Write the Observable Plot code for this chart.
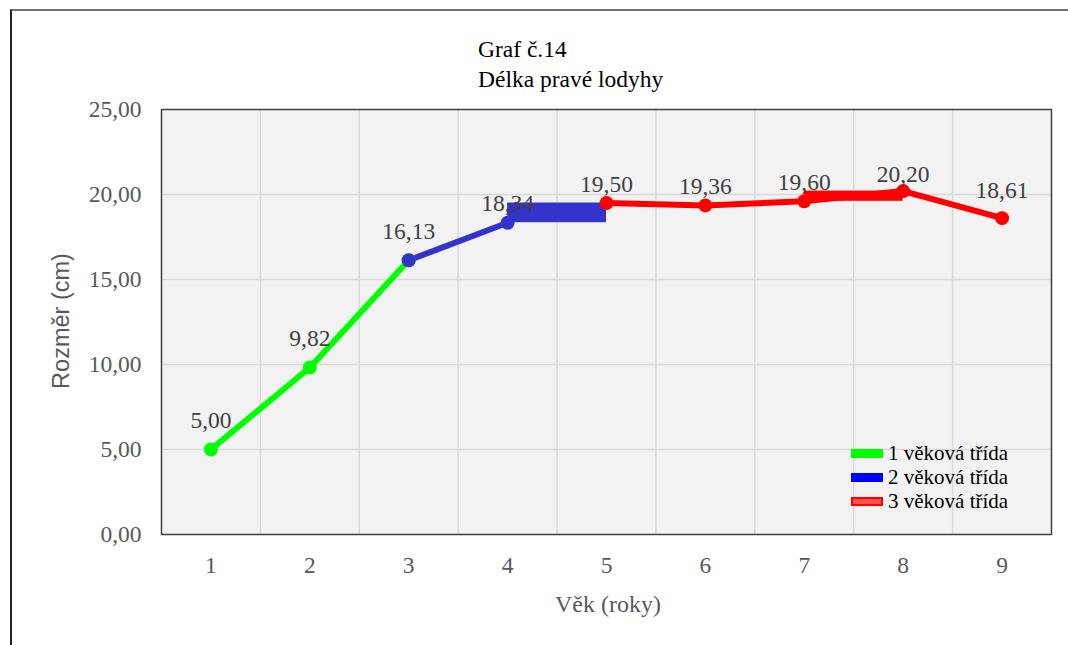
<!DOCTYPE html>
<html>
<head>
<meta charset="utf-8">
<script src="https://cdn.jsdelivr.net/npm/d3@7"></script>
<script src="https://cdn.jsdelivr.net/npm/@observablehq/plot@0.6"></script>
<style>
  html, body { margin: 0; padding: 0; background: #fff; overflow: hidden; }
  #wrap { position: relative; width: 1068px; height: 645px; overflow: hidden; }
  #frame { position: absolute; left: 10px; top: 9px; width: 1200px; height: 800px;
           border-top: 2px solid #6e6e6e; border-left: 2px solid #222; box-sizing: border-box; }
  .t { position: absolute; font-family: "Liberation Serif", "Times New Roman", serif; white-space: nowrap; }
  #title { left: 478px; top: 34px; font-size: 23.5px; line-height: 30px; color: #000; }
  #ytitle { position: absolute; left: 61px; top: 321px; transform: translate(-50%, -50%) rotate(-90deg);
            font-family: "Liberation Sans", Arial, sans-serif; font-size: 23.5px; color: #595959; white-space: nowrap; }
  #xtitle { left: 608px; top: 604px; transform: translate(-50%, -50%); font-size: 24px; color: #595959; }
  #legend { left: 851px; top: 441px; font-size: 21px; color: #000; }
  .li { display: flex; align-items: center; height: 24px; }
  .sw { width: 32px; height: 9px; margin-right: 5px; box-sizing: border-box; }
</style>
</head>
<body>
<div id="wrap">
  <div id="chart"></div>
  <div id="frame"></div>
  <div id="title" class="t">Graf č.14<br>Délka pravé lodyhy</div>
  <div id="ytitle">Rozměr (cm)</div>
  <div id="xtitle" class="t">Věk (roky)</div>
  <div id="legend" class="t"></div>
</div>
<script>
// ---- data ----
const ages = [1, 2, 3, 4, 5, 6, 7, 8, 9];
const sizes = [5.00, 9.82, 16.13, 18.34, 19.50, 19.36, 19.60, 20.20, 18.61];
const class1Ages = [1, 2, 3];
const class2Ages = [3, 4];
const class3Ages = [5, 6, 7, 8, 9];
const classNames = ["1 věková třída", "2 věková třída", "3 věková třída"];
const classColors = ["#00ff00", "#3333cc", "#ff0000"];
const legendFill = ["#00ff00", "#0000ff", "#ff5050"];
const legendStroke = ["#00ff00", "#0000ff", "#ff0000"];
const yTicks = [0, 5, 10, 15, 20, 25];
// bars spanning between age pairs (age from, age to)
const blueBarAges = [4, 5];
const redBarAges = [7, 8];

// label placement (pixels above each point) — style, not data
const labelLift = [29, 29, 29, 19, 19, 19, 19, 17, 28];

const val = a => sizes[ages.indexOf(a)];
const pts = arr => arr.map(a => ({age: a, size: val(a)}));
const s1 = pts(class1Ages), s2 = pts(class2Ages), s3 = pts(class3Ages);
const allPts = pts(ages);
const bars = [
  {x1: blueBarAges[0], x2: blueBarAges[1], y1: val(blueBarAges[0]), y2: val(blueBarAges[1]), c: classColors[1]},
  {x1: redBarAges[0], x2: redBarAges[1], y1: val(redBarAges[0]), y2: val(redBarAges[1]), c: classColors[2]}
];
const gridX = ages.slice(1).map(a => a - 0.5);
const gridY = yTicks.slice(1, -1);
const fmt = d => d.toFixed(2).replace(".", ",");

const labelMarks = allPts.map((p, i) =>
  Plot.text([p], {x: "age", y: "size", text: d => fmt(d.size), dy: -labelLift[i], fill: "#404040", fontSize: 23.5})
);

const chart = Plot.plot({
  width: 1068,
  height: 645,
  marginLeft: 161,
  marginRight: 17,
  marginTop: 109,
  marginBottom: 111,
  style: {fontFamily: "'Liberation Serif', 'Times New Roman', serif", fontSize: "23px", background: "transparent"},
  x: {type: "linear", domain: [ages[0] - 0.5, ages[ages.length - 1] + 0.5]},
  y: {domain: [yTicks[0], yTicks[yTicks.length - 1]]},
  marks: [
    Plot.frame({fill: "#f2f2f2", stroke: null}),
    Plot.ruleY(gridY, {stroke: "#d9d9d9", strokeWidth: 1.5}),
    Plot.ruleX(gridX, {stroke: "#d9d9d9", strokeWidth: 1.5}),
    Plot.frame({stroke: "#404040", strokeWidth: 1.5}),
    Plot.line(s1, {x: "age", y: "size", stroke: classColors[0], strokeWidth: 6}),
    Plot.line(s2, {x: "age", y: "size", stroke: classColors[1], strokeWidth: 6}),
    Plot.line(s3, {x: "age", y: "size", stroke: classColors[2], strokeWidth: 6}),
    Plot.rect(bars, {x1: "x1", x2: "x2", y1: "y1", y2: "y2", fill: "c"}),
    Plot.dot(s1, {x: "age", y: "size", r: 7, fill: classColors[0]}),
    Plot.dot(s2, {x: "age", y: "size", r: 7, fill: classColors[1]}),
    Plot.dot(s3, {x: "age", y: "size", r: 7, fill: classColors[2]}),
    ...labelMarks,
    Plot.axisX({ticks: ages, tickSize: 0, tickPadding: 22, tickFormat: d => String(d), color: "#595959", label: null, fontSize: 23.5}),
    Plot.axisY({ticks: yTicks, tickSize: 0, tickPadding: 20, tickFormat: fmt, color: "#595959", label: null, fontSize: 23.5})
  ]
});
document.getElementById("chart").appendChild(chart);

const legend = document.getElementById("legend");
classNames.forEach((n, i) => {
  const row = document.createElement("div");
  row.className = "li";
  const sw = document.createElement("div");
  sw.className = "sw";
  sw.style.background = legendFill[i];
  sw.style.border = `2px solid ${legendStroke[i]}`;
  const tx = document.createElement("span");
  tx.textContent = n;
  row.appendChild(sw);
  row.appendChild(tx);
  legend.appendChild(row);
});
</script>
</body>
</html>
